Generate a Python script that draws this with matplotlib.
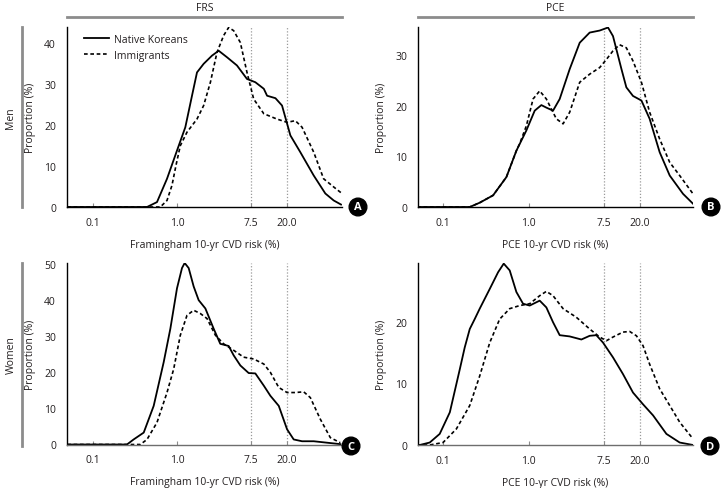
import matplotlib
matplotlib.use("Agg")
import matplotlib.pyplot as plt
from matplotlib.lines import Line2D

plt.rcParams["font.family"] = ["Liberation Sans Narrow", "Open Sans", "DejaVu Sans"]
TXT = "#231f20"

# ------------------------------------------------------------
# Data (x = 10-yr risk in %, y = proportion in %)
# ------------------------------------------------------------
# A. Men, FRS
frs_men_native_x = [0.05, 0.441, 0.579, 0.761, 1.0, 1.255, 1.506, 1.726, 2.07, 2.60, 3.12, 3.92,
                    5.14, 6.76, 8.49, 10.7, 11.7, 14.7, 17.6, 22.1, 29.0, 41.8, 57.4, 72.1, 88.1]
frs_men_native_y = [0, 0, 1.2, 6.9, 13.8, 19.5, 27.2, 32.9, 35.0, 37.0, 38.2, 36.6,
                    34.6, 31.3, 30.5, 28.9, 27.2, 26.6, 24.8, 17.5, 13.4, 7.7, 3.3, 1.6, 0.6]
frs_men_immig_x = [0.05, 0.634, 0.761, 0.872, 0.973, 1.095, 1.314, 1.726, 2.07, 2.49, 2.98, 3.57,
                   4.10, 4.70, 5.64, 6.76, 8.11, 10.7, 15.3, 20.2, 25.3, 30.4, 41.8, 54.8, 72.1, 90.5]
frs_men_immig_y = [0, 0, 1.6, 5.3, 10.2, 15.0, 18.3, 21.5, 24.8, 30.5, 37.8, 41.9,
                   43.9, 43.1, 40.2, 32.9, 26.4, 22.8, 21.5, 20.7, 21.1, 19.5, 13.4, 6.9, 4.9, 3.3]

# B. Men, PCE
pce_men_native_x = [0.05, 0.205, 0.268, 0.384, 0.549, 0.718, 0.939, 1.175, 1.405, 1.607, 1.923, 2.30,
                    3.01, 3.94, 5.15, 6.74, 8.43, 9.64, 12.1, 13.8, 16.5, 20.7, 25.8, 33.8, 44.3,
                    63.3, 82.8]
pce_men_native_y = [0, 0, 0.85, 2.3, 5.9, 11.1, 15.1, 19.0, 20.1, 19.6, 19.0, 21.3,
                    27.2, 32.4, 34.4, 34.8, 35.4, 33.7, 27.2, 23.6, 21.9, 21.0, 17.4, 10.8, 6.2,
                    2.6, 0.65]
pce_men_immig_x = [0.05, 0.205, 0.268, 0.384, 0.549, 0.718, 0.785, 0.939, 1.124, 1.344, 1.607, 2.10,
                   2.52, 3.01, 3.94, 5.15, 6.74, 8.07, 9.64, 11.5, 13.8, 16.5, 20.7, 25.8, 33.8,
                   44.3, 57.9, 82.8]
pce_men_immig_y = [0, 0, 0.85, 2.3, 5.9, 11.1, 12.5, 16.0, 21.3, 22.9, 21.3, 17.4,
                   16.4, 18.7, 24.6, 26.2, 27.5, 29.1, 30.8, 32.0, 31.4, 28.8, 24.6, 18.7, 13.4,
                   8.8, 6.2, 2.6]

# C. Women, FRS
frs_women_native_x = [0.05, 0.255, 0.306, 0.403, 0.529, 0.695, 0.834, 1.0, 1.146, 1.233, 1.375, 1.576,
                      1.807, 2.17, 2.72, 3.26, 4.10, 4.70, 5.64, 7.08, 8.49, 10.7, 12.8, 16.1,
                      20.2, 24.2, 30.4, 41.8, 60.1, 86.4]
frs_women_native_y = [0, 0, 1.4, 3.3, 10.7, 22.8, 32.1, 43.3, 48.9, 50.3, 48.9, 43.8,
                      40.0, 37.7, 32.1, 27.9, 27.3, 24.7, 21.9, 19.8, 19.7, 16.3, 13.5, 10.7,
                      4.2, 1.4, 0.9, 0.9, 0.5, 0.1]
frs_women_immig_x = [0.05, 0.367, 0.441, 0.579, 0.761, 0.913, 1.095, 1.314, 1.576, 1.89, 2.27, 2.85,
                     3.57, 4.70, 6.17, 8.11, 10.7, 12.8, 16.1, 20.2, 25.3, 31.8, 38.1, 50.1,
                     65.8, 86.4]
frs_women_immig_y = [0, 0, 1.4, 6.1, 14.4, 20.9, 30.3, 35.8, 37.2, 36.3, 34.9, 30.3,
                     27.9, 26.1, 24.2, 23.7, 22.3, 20.0, 15.8, 14.4, 14.4, 14.6, 13.0, 7.0,
                     1.9, 0.5]

# D. Women, PCE
pce_women_native_x = [0.05, 0.0534, 0.0699, 0.0914, 0.120, 0.157, 0.179, 0.205, 0.234, 0.268, 0.351,
                      0.439, 0.511, 0.600, 0.718, 0.859, 1.027, 1.344, 1.607, 1.923, 2.30, 3.01,
                      4.12, 5.15, 6.16, 7.37, 9.64, 12.6, 16.5, 21.6, 28.3, 40.5, 57.9, 82.8]
pce_women_native_y = [0, 0, 0.4, 1.8, 5.3, 12.3, 15.8, 18.8, 20.4, 22.1, 25.3,
                      28.0, 29.4, 28.3, 24.8, 22.9, 22.6, 23.4, 22.3, 19.9, 17.8, 17.6,
                      17.1, 17.7, 17.8, 16.6, 14.2, 11.5, 8.5, 6.6, 4.8, 1.8, 0.4, 0]
pce_women_immig_x = [0.05, 0.0699, 0.1, 0.143, 0.205, 0.268, 0.351, 0.458, 0.600, 0.785, 1.027, 1.344,
                     1.607, 1.923, 2.52, 3.60, 5.15, 6.74, 8.07, 9.64, 12.6, 15.1, 18.1, 21.6,
                     25.8, 33.8, 44.3, 57.9, 82.8]
pce_women_immig_y = [0, 0, 0.4, 2.6, 6.4, 11.2, 16.6, 20.4, 22.1, 22.6, 22.9, 24.2,
                     24.9, 24.2, 22.1, 20.7, 18.8, 17.5, 16.9, 17.5, 18.3, 18.4, 17.7, 16.1,
                     13.1, 9.1, 6.4, 3.7, 1.0]

xtick_vals = [0.1, 1.0, 7.5, 20.0]
xtick_labels = ["0.1", "1.0", "7.5", "20.0"]
cutoffs = [7.5, 20.0]

# ------------------------------------------------------------
# Figure canvas
# ------------------------------------------------------------
W, H = 722, 489
fig = plt.figure(figsize=(W / 100, H / 100), dpi=100)


def px_box(left, top, right, bottom):
    return [left / W, 1 - bottom / H, (right - left) / W, (bottom - top) / H]


def panel(box, xlim, ymax, yticks, native, immig, xlabel, letter, letter_xy,
          header=None, bottom_color="black"):
    ax = fig.add_axes(px_box(*box))
    ax.plot(native[0], native[1], color="black", lw=1.3, label="Native Koreans",
            solid_joinstyle="round")
    ax.plot(immig[0], immig[1], color="black", lw=1.2, ls=(0, (2.2, 1.6)), label="Immigrants")
    for c in cutoffs:
        ax.axvline(c, color="#9a9a9a", lw=0.9, ls=(0, (1, 1.5)), zorder=0)
    ax.set_xscale("log")
    ax.set_xlim(*xlim)
    ax.set_ylim(0, ymax)
    ax.set_xticks(xtick_vals)
    ax.set_xticklabels(xtick_labels)
    ax.xaxis.set_minor_locator(matplotlib.ticker.NullLocator())
    ax.set_yticks(yticks)
    ax.tick_params(axis="x", direction="in", length=3, width=0.8, color="#8c8c8c",
                   labelsize=7.5, pad=7, labelcolor=TXT)
    ax.tick_params(axis="y", length=0, labelsize=7.5, pad=8, labelcolor=TXT)
    ax.spines[["top", "right"]].set_visible(False)
    ax.spines["left"].set_linewidth(1.0)
    ax.spines["bottom"].set_linewidth(1.0)
    ax.spines["bottom"].set_color(bottom_color)
    ax.set_xlabel(xlabel, fontsize=7.5, color=TXT, labelpad=8)
    ax.set_ylabel("Proportion (%)", fontsize=7.5, color=TXT, labelpad=6)
    if header:
        ax.plot([0, 1], [1.056, 1.056], transform=ax.transAxes, clip_on=False,
                color="#8c8c8c", lw=2)
        ax.text(0.5, 1.11, header, transform=ax.transAxes, ha="center", va="center",
                fontsize=7.5, color=TXT)
    fig.text(letter_xy[0] / W, 1 - letter_xy[1] / H, letter, ha="center", va="center",
             color="white", fontsize=8, fontweight="bold",
             bbox=dict(boxstyle="circle,pad=0.3", fc="black", ec="black"))
    return ax


axA = panel((67, 28, 342, 208), (0.0496, 90.5), 44, [0, 10, 20, 30, 40],
            (frs_men_native_x, frs_men_native_y), (frs_men_immig_x, frs_men_immig_y),
            "Framingham 10-yr CVD risk (%)", "A", (358, 208), header="FRS")
axB = panel((418, 28, 693, 208), (0.051, 82.8), 35.5, [0, 10, 20, 30],
            (pce_men_native_x, pce_men_native_y), (pce_men_immig_x, pce_men_immig_y),
            "PCE 10-yr CVD risk (%)", "B", (711, 208), header="PCE")
axC = panel((67, 264, 342, 445.5), (0.0496, 90.5), 50.3, [0, 10, 20, 30, 40, 50],
            (frs_women_native_x, frs_women_native_y), (frs_women_immig_x, frs_women_immig_y),
            "Framingham 10-yr CVD risk (%)", "C", (351, 447), bottom_color="#6e6e6e")
axD = panel((418, 264, 693, 446), (0.051, 82.8), 29.5, [0, 10, 20],
            (pce_women_native_x, pce_women_native_y), (pce_women_immig_x, pce_women_immig_y),
            "PCE 10-yr CVD risk (%)", "D", (710, 447), bottom_color="#6e6e6e")

axA.legend(loc="upper left", bbox_to_anchor=(0.045, 0.985), frameon=False, fontsize=7.5,
           handlelength=2.4, handletextpad=0.5, labelspacing=0.45, borderaxespad=0,
           labelcolor=TXT)

# ------------------------------------------------------------
# Row labels
# ------------------------------------------------------------
for label, top, bottom in [("Men", 28, 208), ("Women", 264, 447)]:
    fig.add_artist(Line2D([21.7 / W, 21.7 / W], [1 - top / H, 1 - bottom / H],
                          color="#8c8c8c", lw=2))
    fig.text(11 / W, 1 - (top + bottom) / 2 / H, label, rotation=90, ha="center",
             va="center", fontsize=7.5, color=TXT)

fig.savefig("out.png", dpi=100)
